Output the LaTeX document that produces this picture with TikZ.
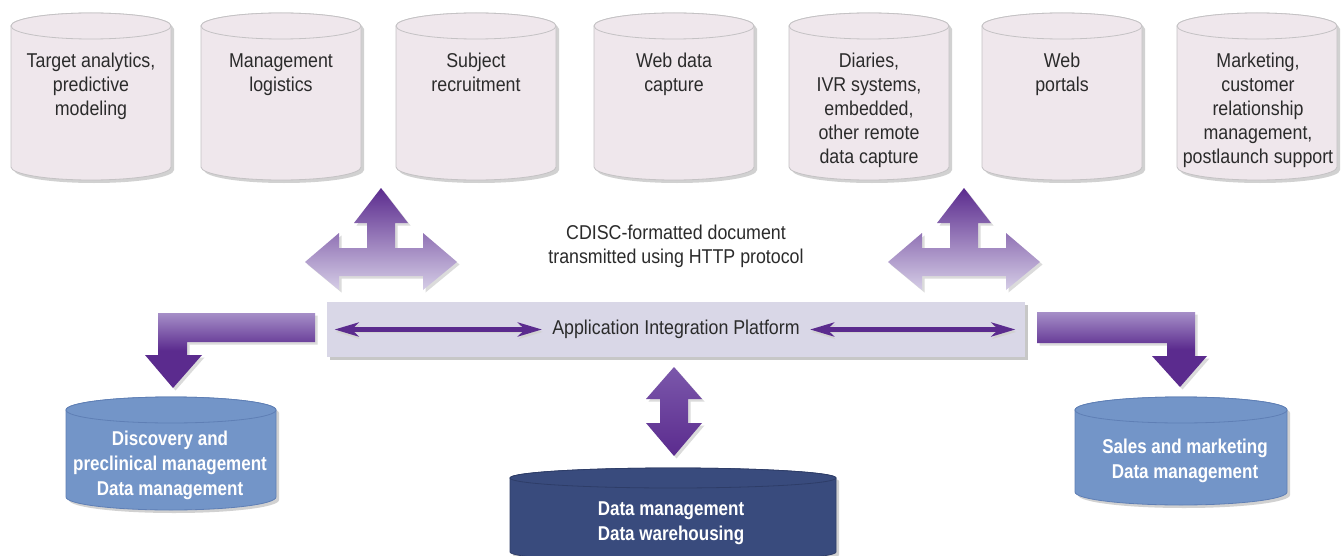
\documentclass[tikz,border=0pt]{standalone}
\usepackage{fontspec}
\setmainfont{Liberation Sans}[FakeStretch=0.89,BoldFeatures={FakeStretch=0.85}]
\usepackage{tikz}
\usetikzlibrary{arrows.meta,shadows}

\definecolor{drumpink}{HTML}{EFE7EC}
\definecolor{drumline}{HTML}{C4C2C4}
\definecolor{toptext}{HTML}{2B2B2B}
\definecolor{aipfill}{HTML}{D9D7E7}
\definecolor{arrowdark}{HTML}{5B2B8E}
\definecolor{arrowmid}{HTML}{A68FC8}
\definecolor{arrowlight}{HTML}{D5CDE6}
\definecolor{arrowtop}{HTML}{7B58AB}
\definecolor{bluefill}{HTML}{7395C8}
\definecolor{blueline}{HTML}{5F7FB5}
\definecolor{navyfill}{HTML}{394B7D}
\definecolor{navyline}{HTML}{2E3D68}

% cylinder: centre x, half width, top y, bottom y, y radius, style
\newcommand{\drum}[6]{%
  \path[#6,dbshadow] ({#1-#2},#3) -- ({#1-#2},#4) arc[start angle=180,end angle=0,x radius=#2,y radius=#5]
    -- ({#1+#2},#3) arc[start angle=0,end angle=-180,x radius=#2,y radius=#5] -- cycle;
  \path[#6] ({#1-#2},#3) -- ({#1-#2},#4) arc[start angle=180,end angle=0,x radius=#2,y radius=#5]
    -- ({#1+#2},#3) arc[start angle=0,end angle=-180,x radius=#2,y radius=#5] -- cycle;
  \path[#6] (#1,#3) ellipse[x radius=#2,y radius=#5];
}
\newcommand{\tripath}{(0,188) -- (27,223) -- (14,223) -- (14,248) -- (42,248) -- (42,233) -- (76,262)
  -- (42,290) -- (42,276) -- (-42,276) -- (-42,290) -- (-76,262) -- (-42,233) -- (-42,248)
  -- (-14,248) -- (-14,223) -- (-27,223) -- cycle}

\begin{document}
\begin{tikzpicture}[x=0.5pt,y=-0.5pt,
  dbshadow/.style={fill=black!18,draw=none,shift={(3,3)}},
  topdb/.style={fill=drumpink,draw=drumline,line width=0.4pt},
  bluedb/.style={fill=bluefill,draw=blueline,line width=0.4pt},
  navydb/.style={fill=navyfill,draw=navyline,line width=0.4pt},
  toptxt/.style={anchor=north,align=center,inner sep=0pt,text=toptext,font=\fontsize{10}{12}\selectfont},
  dbtxt/.style={align=center,inner sep=0pt,text=white,font=\bfseries\fontsize{10}{12.5}\selectfont},
  aipbox/.style={rectangle,fill=aipfill,minimum width=349pt,minimum height=27.5pt,inner sep=0pt,
    drop shadow={shadow xshift=1.5pt,shadow yshift=-1.5pt,fill=black!22,opacity=1}},
  aiparrow/.style={{Stealth[length=12pt,width=7pt,inset=3.5pt]}-{Stealth[length=12pt,width=7pt,inset=3.5pt]},
    line width=2.6pt,draw=arrowdark,
    preaction={draw=black!18,transform canvas={xshift=0.5pt,yshift=-1.2pt}}},
  blockshadow/.style={fill=black!14,shift={(2.5,2.5)}},
  tri/.style={top color=arrowdark,bottom color=arrowlight},
  bent/.style={top color=arrowmid,bottom color=arrowdark,middle color=arrowdark},
  updown/.style={top color=arrowtop,bottom color=arrowdark}]
  \path[use as bounding box,fill=white] (0,0) rectangle (1342,556);

  % source systems
  \drum{91}{80}{26}{167}{13}{topdb}
  \drum{281}{80}{26}{167}{13}{topdb}
  \drum{476}{80}{26}{167}{13}{topdb}
  \drum{674}{80}{26}{167}{13}{topdb}
  \drum{869}{80}{26}{167}{13}{topdb}
  \drum{1062}{80}{26}{167}{13}{topdb}
  \drum{1257}{80}{26}{167}{13}{topdb}
  \node[toptxt] (tgt) at (91,53) {Target analytics,\\predictive\\modeling};
  \node[toptxt] (mgt) at (281,53) {Management\\logistics};
  \node[toptxt] (subj) at (476,53) {Subject\\recruitment};
  \node[toptxt] (wdc) at (674,53) {Web data\\capture};
  \node[toptxt] (diar) at (869,53) {Diaries,\\IVR systems,\\embedded,\\other remote\\data capture};
  \node[toptxt] (port) at (1062,53) {Web\\portals};
  \node[toptxt] (mkt) at (1258,53) {Marketing,\\customer\\relationship\\management,\\postlaunch support};

  % three-way arrows
  \begin{scope}[shift={(381,0)}]
    \fill[blockshadow] \tripath;
    \shade[tri] \tripath;
  \end{scope}
  \begin{scope}[shift={(964,0)}]
    \fill[blockshadow] \tripath;
    \shade[tri] \tripath;
  \end{scope}
  \node[align=center,inner sep=0pt,text=toptext,font=\fontsize{10}{12}\selectfont] (cdisc) at (676,246)
    {CDISC-formatted document\\transmitted using HTTP protocol};

  % platform
  \node[aipbox] (aip) at (676,329.5) {};
  \node[inner sep=0pt,text=toptext,font=\fontsize{10}{12}\selectfont] (aiptxt) at (aip.center)
    {Application Integration Platform};
  \draw[aiparrow] ([xshift=4pt]aip.west) -- ([xshift=-5pt]aiptxt.west);
  \draw[aiparrow] ([xshift=5pt]aiptxt.east) -- ([xshift=-5pt]aip.east);

  % bent arrows and up-down arrow
  \fill[blockshadow] (315,313) -- (158,313) -- (158,355) -- (145,355) -- (173,388) -- (202,355) -- (187,355) -- (187,342) -- (315,342) -- cycle;
  \shade[bent] (315,313) -- (158,313) -- (158,355) -- (145,355) -- (173,388) -- (202,355) -- (187,355) -- (187,342) -- (315,342) -- cycle;
  \fill[blockshadow] (1037,312) -- (1195,312) -- (1195,356) -- (1207,356) -- (1180,387) -- (1152,356) -- (1167,356) -- (1167,343) -- (1037,343) -- cycle;
  \shade[bent] (1037,312) -- (1195,312) -- (1195,356) -- (1207,356) -- (1180,387) -- (1152,356) -- (1167,356) -- (1167,343) -- (1037,343) -- cycle;
  \fill[blockshadow] (674,367) -- (702,399) -- (688,399) -- (688,423) -- (702,423) -- (674,456) -- (646,423) -- (660,423) -- (660,399) -- (646,399) -- cycle;
  \shade[updown] (674,367) -- (702,399) -- (688,399) -- (688,423) -- (702,423) -- (674,456) -- (646,423) -- (660,423) -- (660,399) -- (646,399) -- cycle;

  % data stores
  \drum{171}{105}{410}{497}{13}{bluedb}
  \drum{1181}{106}{410}{492}{13}{bluedb}
  \drum{673}{163}{478}{552}{10}{navydb}
  \node[dbtxt] (disc) at (170,465) {Discovery and\\preclinical management\\Data management};
  \node[dbtxt] (sales) at (1185,461) {Sales and marketing\\Data management};
  \node[dbtxt] (dwh) at (671,523) {Data management\\Data warehousing};
\end{tikzpicture}
\end{document}
